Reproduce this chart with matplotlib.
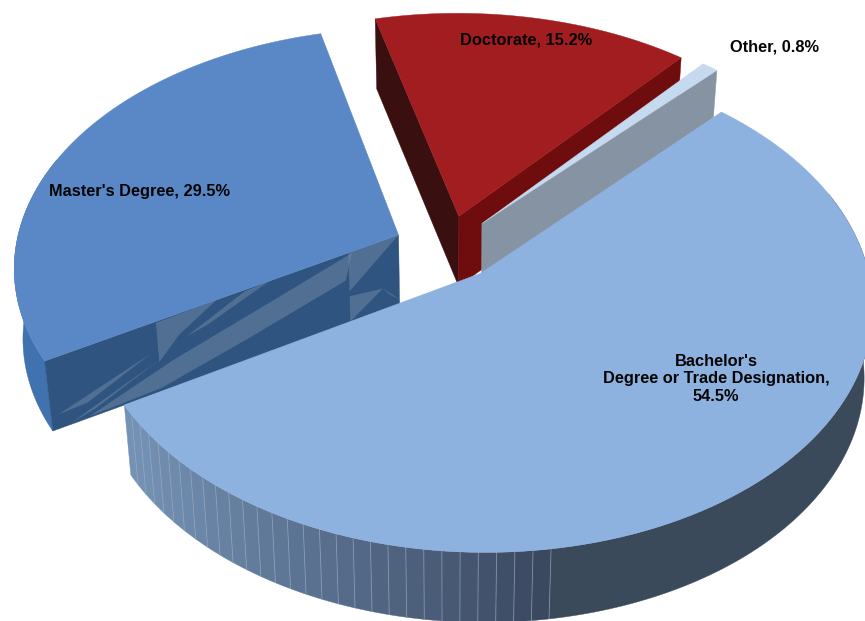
import numpy as np
import matplotlib
matplotlib.use('Agg')
import matplotlib.pyplot as plt
from matplotlib.colors import to_rgb

labels = ["Bachelor's\nDegree or Trade Designation,\n54.5%", "Master's Degree, 29.5%",
          "Doctorate, 15.2%", "Other, 0.8%"]
shares = [54.5, 29.5, 15.2, 0.8]

# camera / pie setup, in pixels
cx, cy = 447.0, 247.5
radius = 383.0
squash = 0.617
persp = 0.1275
depth = 70.0
tilt = 0.02
explode = 0.138
start = 46.6

top_cols = ['#8eb2df', '#5a88c6', '#a11d20', '#c5d9ef']
rim_cols = ['#3b4a5a', '#3f72ae', '#6f0c0e', '#c5d9ef']
edge_start_cols = [None, '#2f5480', '#3a0f0f', None]
edge_end_cols = [None, None, '#6f0c0e', '#8693a3']

# moire streaks on the master's cut face, in (along, down) face units
streaks = [[(.30, .02), (.47, .0), (.36, .30), (.30, .58)],
           [(.38, .36), (.55, .02), (.62, .0), (.44, .30)],
           [(.10, .98), (.34, .62), (.62, .30), (.86, .02), (.84, .38), (.55, .70), (.30, .95)],
           [(.02, .80), (.28, .42), (.10, .78)],
           [(.05, .98), (.30, .55), (.12, .90)],
           [(.85, .0), (1.0, .0), (.85, .55)],
           [(.85, .62), (.95, .68), (.85, .98)],
           [(.95, .68), (1.0, .92), (.97, .80)]]


def project(u, v, drop=0.0):
    s = 1.0 / (1.0 + persp * v)
    x = cx + radius * u * s
    y = cy - radius * squash * v * s
    f = drop / depth
    return x + tilt * (450 - x) * f, y + drop


def slice_pts(a0, a1, n=120):
    mid = np.radians((a0 + a1) / 2)
    ox, oy = explode * np.cos(mid), explode * np.sin(mid)
    t = np.radians(np.linspace(a0, a1, n))
    return ox, oy, ox + np.cos(t), oy + np.sin(t)


def face(ax, u, v, color, z):
    x0, y0 = project(u, v)
    x1, y1 = project(u[::-1], v[::-1], depth)
    ax.fill(np.r_[x0, x1], np.r_[y0, y1], color=color, lw=0.3, zorder=z)


def mix(a, b, f):
    a, b = np.array(to_rgb(a)), np.array(to_rgb(b))
    return tuple(a + (b - a) * f)


fig = plt.figure(figsize=(8.65, 6.21), dpi=100)
ax = fig.add_axes([0, 0, 1, 1])
ax.set_xlim(0, 865)
ax.set_ylim(621, 0)
ax.axis('off')

# slices run clockwise from the start angle
spans = np.array(shares) / sum(shares) * 360.0
ends = start - np.cumsum(spans)
begins = ends + spans
draw_order = [1, 2, 3, 0]

for rank, i in enumerate(draw_order):
    z = 10 * (rank + 1)
    ox, oy, u, v = slice_pts(begins[i], ends[i])
    if i == 0:
        # bachelor's rim: banded facets on the left, flat dark on the right
        ang = np.linspace(ends[0], -81.5, 30)
        for k in range(29):
            t = np.radians(np.linspace(ang[k], ang[k + 1], 4))
            shade = mix('#7492b6', '#3a4860', (k / 28.0) ** 1.3)
            uu = ox + np.cos(t)
            vv = oy + np.sin(t)
            face(ax, uu, vv, shade, z)
            x0, y0 = project(uu[-1], vv[-1])
            x1, y1 = project(uu[-1], vv[-1], depth)
            ax.plot([x0, x1], [y0, y1], color='#9aaabd', lw=0.6, alpha=0.7, zorder=z + 1)
        t = np.radians(np.linspace(-81.5, 20.0, 100))
        face(ax, ox + np.cos(t), oy + np.sin(t), rim_cols[0], z)
    elif i == 1:
        t = np.radians(np.linspace(begins[1], begins[1] - 50, 60))
        face(ax, ox + np.cos(t), oy + np.sin(t), rim_cols[1], z)
    # straight cut faces
    if edge_start_cols[i]:
        face(ax, np.array([ox, u[0]]), np.array([oy, v[0]]), edge_start_cols[i], z + 2)
    if edge_end_cols[i]:
        face(ax, np.array([ox, u[-1]]), np.array([oy, v[-1]]), edge_end_cols[i], z + 2)
    if i == 1:
        for st in streaks:
            pts = []
            for a, d in st:
                uu = u[0] + (ox - u[0]) * a
                vv = v[0] + (oy - v[0]) * a
                pts.append(project(uu, vv, d * depth))
            pts = np.array(pts)
            ax.fill(pts[:, 0], pts[:, 1], color='#7f96ad', alpha=0.42, lw=0, zorder=z + 3)
    # top surface
    px, py = project(np.r_[ox, u], np.r_[oy, v])
    ax.fill(px, py, color=top_cols[i], lw=0.3, zorder=z + 5)

font = dict(family='Liberation Sans', weight='bold', size=11.8, color='#050505', zorder=100,
            ha='center', va='center')
ax.text(716, 379, labels[0], linespacing=1.2, **font)
ax.text(139.5, 191.5, labels[1], **font)
ax.text(526.5, 40, labels[2], **font)
ax.text(774, 47, labels[3], **font)

fig.savefig('out.png', dpi=100)
